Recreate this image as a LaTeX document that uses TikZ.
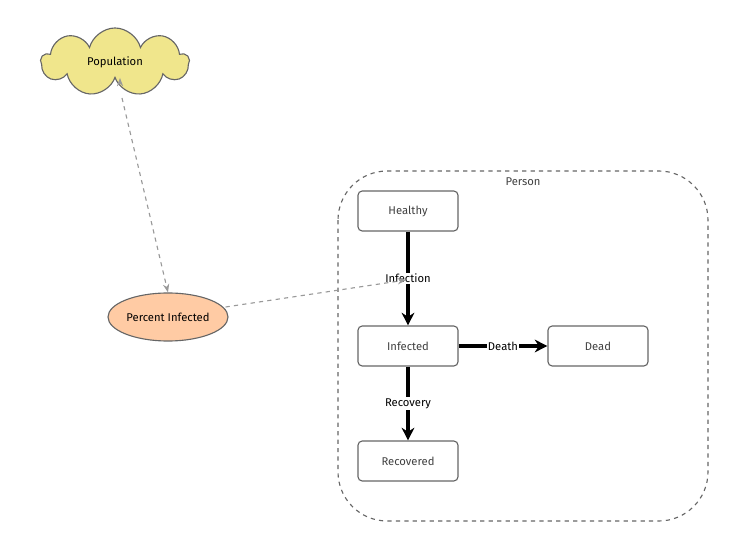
\documentclass[tikz,border=0pt]{standalone}
\usepackage{fontspec}
\setmainfont{Fira Sans}
\usetikzlibrary{positioning, arrows.meta, shapes.geometric, shapes.symbols}
\definecolor{cloudfill}{HTML}{F0E68C}
\definecolor{peach}{HTML}{FFCBA4}
\definecolor{edgegray}{HTML}{666666}
\tikzset{
    state/.style={rectangle, draw=edgegray, thick, rounded corners=3pt, fill=white,
        minimum width=2.5cm, minimum height=1cm, font=\footnotesize, text=black!75},
    flow/.style={-{Stealth[length=9pt,width=9pt]}, line width=2.2pt},
    link/.style={draw=black!40, thick, dashed, -{Stealth[length=6pt]}},
    lbl/.style={fill=white, inner sep=1pt, font=\footnotesize}
}
\begin{document}
\begin{tikzpicture}[x=0.025cm, y=-0.025cm]
    \useasboundingbox (0,0) rectangle (738,544);

    \draw[edgegray, thick, dashed, rounded corners=35] (338,171) rectangle (708,521);
    \node[font=\footnotesize, text=black!75] (person) at (523,182) {Person};

    \node[cloud, cloud puffs=9, aspect=2.2, draw=edgegray, thick, fill=cloudfill,
        minimum width=3.7cm, minimum height=1.7cm, font=\footnotesize] (pop) at (115,62) {Population};
    \node[ellipse, draw=edgegray, thick, fill=peach, minimum width=3cm,
        minimum height=1.2cm, inner sep=0pt, font=\footnotesize] (pct) at (168,317) {Percent Infected};

    \node[state] (healthy) at (408,211) {Healthy};
    \node[state] (infected) at (408,346) {Infected};
    \node[state] (dead) at (598,346) {Dead};
    \node[state] (recovered) at (408,461) {Recovered};

    \draw[flow] (healthy) -- node[lbl] (infection) {Infection} (infected);
    \draw[flow] (infected) -- node[lbl, pos=0.5] {Death} (dead);
    \draw[flow] (infected) -- node[lbl] {Recovery} (recovered);

    \coordinate (tip) at (406,280);
    \draw[link] (pop.south) ++(5,-1) coordinate (popout);
    \draw[link] (122,98) -- (pct.north);
    \draw[link] (pct.east) ++(-3,-10) -- (tip);
\end{tikzpicture}
\end{document}
